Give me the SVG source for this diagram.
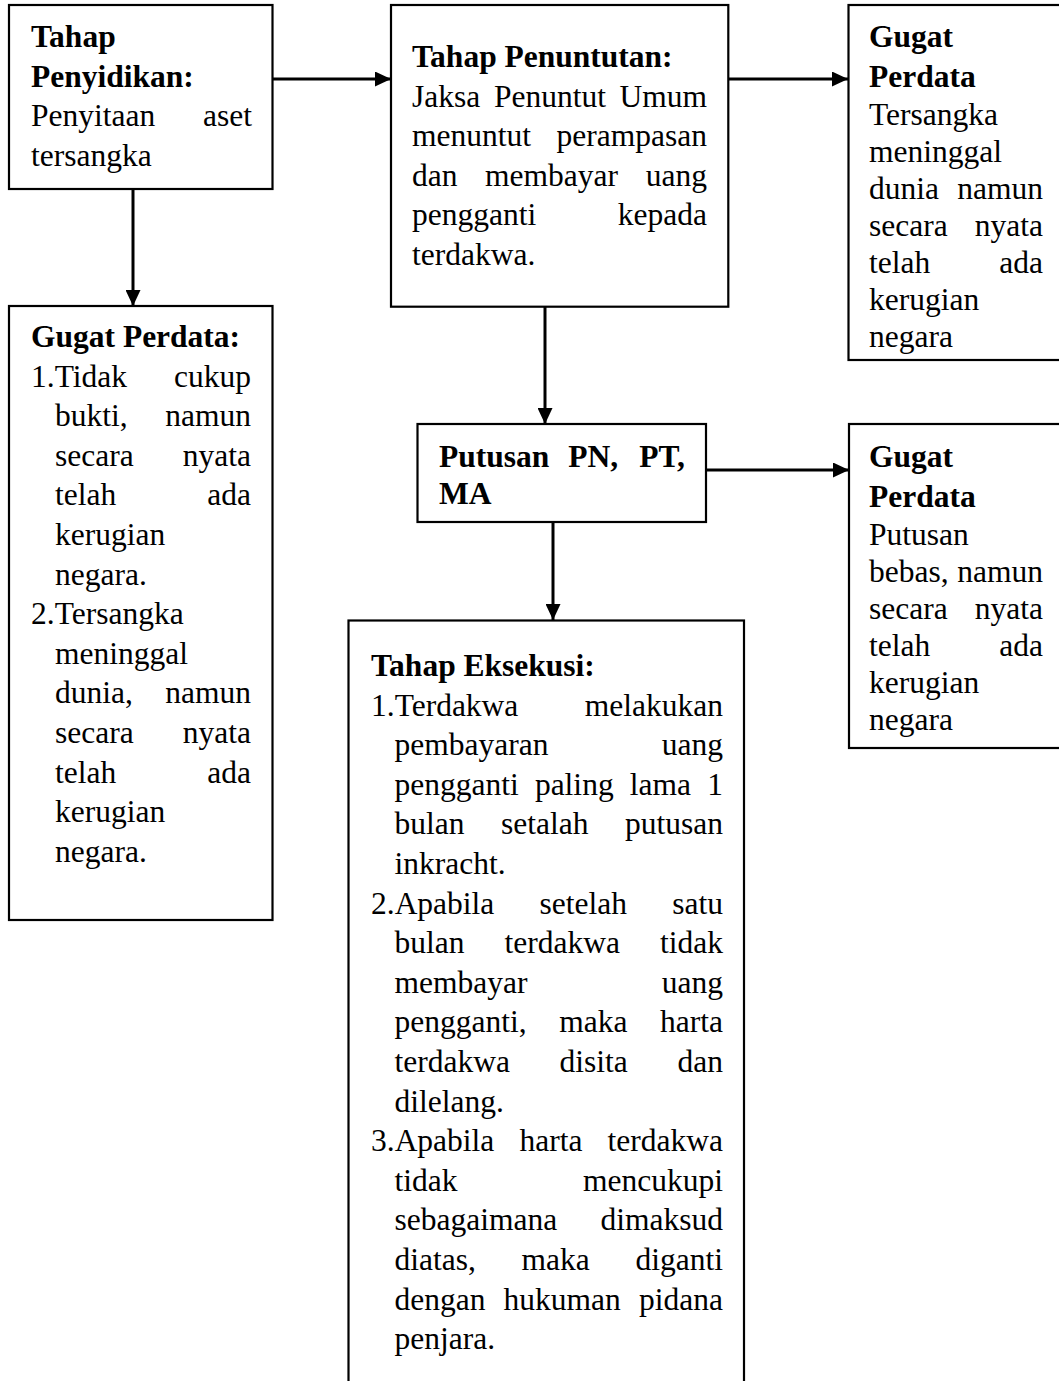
<svg xmlns="http://www.w3.org/2000/svg" width="1059" height="1381" viewBox="0 0 1059 1381">
<defs>
<style>
.box{fill:#fff;stroke:#000;stroke-width:2.2}
.t{font-family:"Liberation Serif","Times New Roman",serif;font-size:31.5px;fill:#000}
.b{font-weight:bold}
.e{text-anchor:end}
.c{stroke:#000;stroke-width:3;fill:none}
</style>
<marker id="ah" markerUnits="userSpaceOnUse" markerWidth="16" markerHeight="15" refX="16" refY="7.5" orient="auto">
<path d="M0,0 L16,7.5 L0,15 z" fill="#000"/>
</marker>
</defs>
<rect width="1059" height="1381" fill="#fff"/>

<g id="connectors">
<line class="c" x1="273" y1="79" x2="391" y2="79" marker-end="url(#ah)"/>
<line class="c" x1="133" y1="189" x2="133" y2="306" marker-end="url(#ah)"/>
<line class="c" x1="728" y1="79" x2="848" y2="79" marker-end="url(#ah)"/>
<line class="c" x1="545" y1="307" x2="545" y2="424" marker-end="url(#ah)"/>
<line class="c" x1="706" y1="470" x2="849" y2="470" marker-end="url(#ah)"/>
<line class="c" x1="553" y1="522" x2="553" y2="620" marker-end="url(#ah)"/>
</g>

<g id="tahap-penyidikan">
<rect class="box" x="9" y="5" width="263.5" height="184"/>
<text class="t b" x="31" y="47">Tahap</text>
<text class="t b" x="31" y="86.6">Penyidikan:</text>
<text class="t" x="31" y="126.2">Penyitaan</text>
<text class="t e" x="252" y="126.2">aset</text>
<text class="t" x="31" y="165.8">tersangka</text>
</g>

<g id="tahap-penuntutan">
<rect class="box" x="391" y="5" width="337.3" height="301.7"/>
<text class="t b" x="412" y="67">Tahap Penuntutan:</text>
<text class="t" x="412" y="106.6">Jaksa</text>
<text class="t" x="493.9" y="106.6">Penuntut</text>
<text class="t e" x="707" y="106.6">Umum</text>
<text class="t" x="412" y="146.2">menuntut</text>
<text class="t e" x="707" y="146.2">perampasan</text>
<text class="t" x="412" y="185.8">dan</text>
<text class="t" x="485.1" y="185.8">membayar</text>
<text class="t e" x="707" y="185.8">uang</text>
<text class="t" x="412" y="225.4">pengganti</text>
<text class="t e" x="707" y="225.4">kepada</text>
<text class="t" x="412" y="265">terdakwa.</text>
</g>

<g id="gugat-perdata-kanan-atas">
<rect class="box" x="848.5" y="5" width="220" height="355"/>
<text class="t b" x="869" y="47">Gugat</text>
<text class="t b" x="869" y="87">Perdata</text>
<text class="t" x="869" y="125.3">Tersangka</text>
<text class="t" x="869" y="162.2">meninggal</text>
<text class="t" x="869" y="199.1">dunia</text>
<text class="t e" x="1043" y="199.1">namun</text>
<text class="t" x="869" y="236">secara</text>
<text class="t e" x="1043" y="236">nyata</text>
<text class="t" x="869" y="272.9">telah</text>
<text class="t e" x="1043" y="272.9">ada</text>
<text class="t" x="869" y="309.8">kerugian</text>
<text class="t" x="869" y="346.7">negara</text>
</g>

<g id="gugat-perdata-kiri">
<rect class="box" x="9" y="306" width="263.5" height="614"/>
<text class="t b" x="31" y="347">Gugat Perdata:</text>
<text class="t" x="31" y="386.6">1.Tidak</text>
<text class="t e" x="251" y="386.6">cukup</text>
<text class="t" x="55" y="426.2">bukti,</text>
<text class="t e" x="251" y="426.2">namun</text>
<text class="t" x="55" y="465.8">secara</text>
<text class="t e" x="251" y="465.8">nyata</text>
<text class="t" x="55" y="505.4">telah</text>
<text class="t e" x="251" y="505.4">ada</text>
<text class="t" x="55" y="545">kerugian</text>
<text class="t" x="55" y="584.6">negara.</text>
<text class="t" x="31" y="624.2">2.Tersangka</text>
<text class="t" x="55" y="663.8">meninggal</text>
<text class="t" x="55" y="703.4">dunia,</text>
<text class="t e" x="251" y="703.4">namun</text>
<text class="t" x="55" y="743">secara</text>
<text class="t e" x="251" y="743">nyata</text>
<text class="t" x="55" y="782.6">telah</text>
<text class="t e" x="251" y="782.6">ada</text>
<text class="t" x="55" y="822.2">kerugian</text>
<text class="t" x="55" y="861.8">negara.</text>
</g>

<g id="putusan">
<rect class="box" x="417.5" y="424" width="288.5" height="98"/>
<text class="t b" x="439" y="466.7">Putusan</text>
<text class="t b" x="568.2" y="466.7">PN,</text>
<text class="t b e" x="685" y="466.7">PT,</text>
<text class="t b" x="439" y="504">MA</text>
</g>

<g id="gugat-perdata-kanan-tengah">
<rect class="box" x="849" y="424" width="220" height="324"/>
<text class="t b" x="869" y="466.7">Gugat</text>
<text class="t b" x="869" y="506.7">Perdata</text>
<text class="t" x="869" y="545">Putusan</text>
<text class="t" x="869" y="582">bebas,</text>
<text class="t e" x="1043" y="582">namun</text>
<text class="t" x="869" y="619">secara</text>
<text class="t e" x="1043" y="619">nyata</text>
<text class="t" x="869" y="656">telah</text>
<text class="t e" x="1043" y="656">ada</text>
<text class="t" x="869" y="693">kerugian</text>
<text class="t" x="869" y="730">negara</text>
</g>

<g id="tahap-eksekusi">
<rect class="box" x="348.5" y="620.5" width="395.5" height="800"/>
<text class="t b" x="371" y="676">Tahap Eksekusi:</text>
<text class="t" x="371" y="715.6">1.Terdakwa</text>
<text class="t e" x="723" y="715.6">melakukan</text>
<text class="t" x="394.5" y="755.2">pembayaran</text>
<text class="t e" x="723" y="755.2">uang</text>
<text class="t" x="394.5" y="794.8">pengganti</text>
<text class="t" x="534.9" y="794.8">paling</text>
<text class="t" x="629.8" y="794.8">lama</text>
<text class="t e" x="723" y="794.8">1</text>
<text class="t" x="394.5" y="834.4">bulan</text>
<text class="t" x="501" y="834.4">setalah</text>
<text class="t e" x="723" y="834.4">putusan</text>
<text class="t" x="394.5" y="874">inkracht.</text>
<text class="t" x="371" y="913.6">2.Apabila</text>
<text class="t" x="539.6" y="913.6">setelah</text>
<text class="t e" x="723" y="913.6">satu</text>
<text class="t" x="394.5" y="953.2">bulan</text>
<text class="t" x="504.5" y="953.2">terdakwa</text>
<text class="t e" x="723" y="953.2">tidak</text>
<text class="t" x="394.5" y="992.8">membayar</text>
<text class="t e" x="723" y="992.8">uang</text>
<text class="t" x="394.5" y="1032.4">pengganti,</text>
<text class="t" x="559.2" y="1032.4">maka</text>
<text class="t e" x="723" y="1032.4">harta</text>
<text class="t" x="394.5" y="1072">terdakwa</text>
<text class="t" x="559.6" y="1072">disita</text>
<text class="t e" x="723" y="1072">dan</text>
<text class="t" x="394.5" y="1111.6">dilelang.</text>
<text class="t" x="371" y="1151.2">3.Apabila</text>
<text class="t" x="519.5" y="1151.2">harta</text>
<text class="t e" x="723" y="1151.2">terdakwa</text>
<text class="t" x="394.5" y="1190.8">tidak</text>
<text class="t e" x="723" y="1190.8">mencukupi</text>
<text class="t" x="394.5" y="1230.4">sebagaimana</text>
<text class="t e" x="723" y="1230.4">dimaksud</text>
<text class="t" x="394.5" y="1270">diatas,</text>
<text class="t" x="521.6" y="1270">maka</text>
<text class="t e" x="723" y="1270">diganti</text>
<text class="t" x="394.5" y="1309.6">dengan</text>
<text class="t" x="503.6" y="1309.6">hukuman</text>
<text class="t e" x="723" y="1309.6">pidana</text>
<text class="t" x="394.5" y="1349.2">penjara.</text>
</g>
</svg>
